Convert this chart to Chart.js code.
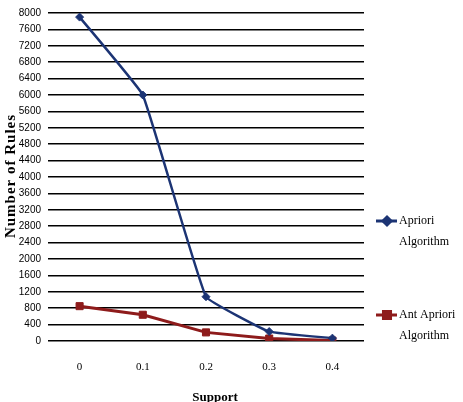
<!DOCTYPE html>
<html><head><meta charset="utf-8">
<script src="https://cdn.jsdelivr.net/npm/chart.js@4/dist/chart.umd.min.js"></script>
<style>html,body{margin:0;padding:0;background:#fff}#wrap{width:463px;height:402px;position:relative}</style>
</head><body><div id="wrap"><canvas id="c" width="463" height="402"></canvas></div>
<script>
const categories = ["0", "0.1", "0.2", "0.3", "0.4"];
const aprioriValues = [7900, 6000, 1080, 230, 70];
const antAprioriValues = [850, 640, 210, 60, 10];
const seriesNames = [["Apriori", "Algorithm"], ["Ant Apriori", "Algorithm"]];
const yTitle = "Number of Rules";
const xTitle = "Support";

const BLUE = "#1c3474";
const RED = "#8e1b1b";

const overlay = {
  id: "overlay",
  afterDraw(chart) {
    const ctx = chart.ctx;
    ctx.save();
    ctx.fillStyle = "#000";
    ctx.font = "bold 15px 'Liberation Serif'";
    ctx.letterSpacing = "1px";
    ctx.textAlign = "center";
    ctx.textBaseline = "middle";
    ctx.translate(11, 176);
    ctx.rotate(-Math.PI / 2);
    ctx.fillText(yTitle, 0, 0);
    ctx.restore();
    ctx.save();
    ctx.fillStyle = "#000";
    ctx.font = "bold 13px 'Liberation Serif'";
    ctx.textAlign = "center";
    ctx.textBaseline = "middle";
    ctx.fillText(xTitle, 215, 398);
    const items = [
      {y: 221, color: BLUE, style: "rectRot", r: 4},
      {y: 315, color: RED, style: "rect", r: 5}
    ];
    ctx.font = "12px 'Liberation Serif'";
    ctx.textAlign = "left";
    items.forEach((it, i) => {
      ctx.strokeStyle = it.color;
      ctx.lineWidth = 3;
      ctx.beginPath();
      ctx.moveTo(376, it.y);
      ctx.lineTo(397, it.y);
      ctx.stroke();
      ctx.fillStyle = it.color;
      Chart.helpers.drawPoint(ctx, {pointStyle: it.style, radius: it.r, borderWidth: 1}, 387, it.y);
      ctx.fillStyle = "#000";
      ctx.fillText(seriesNames[i][0], 399, it.y);
      ctx.fillText(seriesNames[i][1], 399, it.y + 21);
    });
    ctx.restore();
  }
};

new Chart(document.getElementById("c"), {
  type: "line",
  data: {
    labels: categories,
    datasets: [
      {label: seriesNames[0].join(" "), data: aprioriValues, borderColor: BLUE, backgroundColor: BLUE,
       borderWidth: 2.5, pointStyle: "rectRot", pointRadius: 4, pointBorderWidth: 1, tension: 0.08},
      {label: seriesNames[1].join(" "), data: antAprioriValues, borderColor: RED, backgroundColor: RED,
       borderWidth: 3, pointStyle: "rect", pointRadius: 5, pointBorderWidth: 1, tension: 0}
    ]
  },
  options: {
    responsive: false,
    animation: false,
    layout: {padding: {left: 0, right: 99, top: 9, bottom: 0}},
    plugins: {legend: {display: false}, tooltip: {enabled: false}},
    scales: {
      x: {
        offset: true,
        grid: {display: false, drawTicks: false},
        border: {display: false},
        ticks: {color: "#000", font: {family: "'Liberation Serif'", size: 11}, padding: 20, maxRotation: 0},
        afterFit(s) { s.height = 61; }
      },
      y: {
        min: 0, max: 8000,
        grid: {color: "#000", lineWidth: 1.5, drawTicks: false},
        border: {display: false},
        ticks: {stepSize: 400, color: "#000", font: {family: "'Liberation Sans Narrow', 'Liberation Sans'", size: 10}, padding: 7,
                callback: (v) => String(v)},
        afterFit(s) { s.width = 48; }
      }
    }
  },
  plugins: [overlay]
});
</script>
</body></html>
